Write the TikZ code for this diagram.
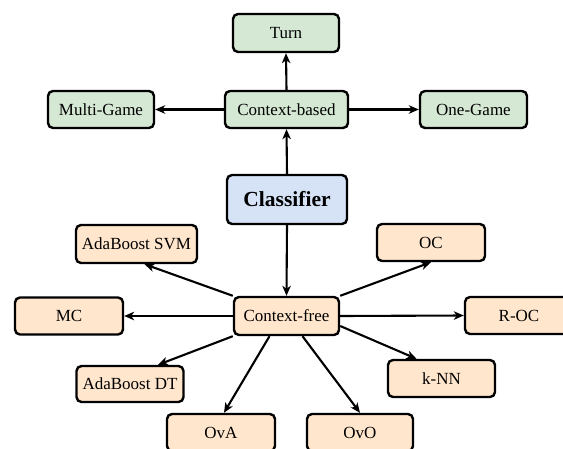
\documentclass[tikz,border=0pt]{standalone}
\usepackage{fontspec}
\setmainfont{Liberation Serif}
\usetikzlibrary{arrows.meta,calc}
\definecolor{cbgreen}{HTML}{D5E8D4}
\definecolor{cforange}{HTML}{FFE6CC}
\definecolor{clblue}{HTML}{D6E3F6}
\begin{document}
\begin{tikzpicture}[x=1pt,y=-1pt,
  box/.style={draw=black, line width=2.4pt, rounded corners=5pt, inner sep=0pt,
    minimum height=37pt, font=\fontsize{17}{20}\selectfont},
  gbox/.style={box, fill=cbgreen},
  obox/.style={box, fill=cforange},
  conn/.style={line width=2.1pt, -{Stealth[length=10pt,width=8.5pt,inset=3pt]}}]
\clip (0,0) rectangle (563,448);
\fill[white] (0,0) rectangle (563,448);
% context-based branch
\node[gbox, minimum width=106pt, minimum height=38pt] (turn) at (286,33) {Turn};
\node[gbox, minimum width=123pt] (cb) at (286.5,109.5) {Context-based};
\node[gbox, minimum width=106pt] (mg) at (101,109.5) {Multi-Game};
\node[gbox, minimum width=107pt] (og) at (473.5,109.5) {One-Game};
% root
\node[box, fill=clblue, minimum width=120pt, minimum height=49pt,
  font=\fontsize{21.5}{24}\selectfont\bfseries] (cls) at (287,199.5) {Classifier};
% context-free branch
\node[obox, minimum width=121pt, minimum height=38pt] (svm) at (136.5,244) {AdaBoost SVM};
\node[obox, minimum width=108pt] (oc) at (431,242.5) {OC};
\node[obox, minimum width=108pt] (mc) at (69,316) {MC};
\node[obox, minimum width=105pt, minimum height=38pt] (cf) at (286.5,316) {Context-free};
\node[obox, minimum width=108pt] (roc) at (519,315.5) {R-OC};
\node[obox, minimum width=107pt, minimum height=36pt] (dt) at (130,384) {AdaBoost DT};
\node[obox, minimum width=107pt] (knn) at (441.5,378.5) {k-NN};
\node[obox, minimum width=108pt] (ova) at (221,432.5) {OvA};
\node[obox, minimum width=106pt] (ovo) at (360,432.5) {OvO};
% connectors
\draw[conn] (cls.north) -- (cb.south);
\draw[conn] (cb.north) -- (turn.south);
\draw[conn] (cb.west) -- (mg.east);
\draw[conn] (cb.east) -- (og.west);
\draw[conn] (cls.south) -- (cf.north);
\draw[conn] (cf.north west) -- ($(svm.south)+(8,0)$);
\draw[conn] (cf.north east) -- (oc.south);
\draw[conn] (cf.west) -- (mc.east);
\draw[conn] (cf.east) -- (roc.west);
\draw[conn] (cf.south west) -- ($(dt.north)+(28,0)$);
\draw[conn] ($(cf.south)+(-17,0)$) -- ($(ova.north)+(3,0)$);
\draw[conn] ($(cf.south)+(16,0)$) -- (ovo.north);
\draw[conn] ($(cf.east)+(0,10)$) -- ($(knn.north)+(-25,0)$);
\end{tikzpicture}
\end{document}
